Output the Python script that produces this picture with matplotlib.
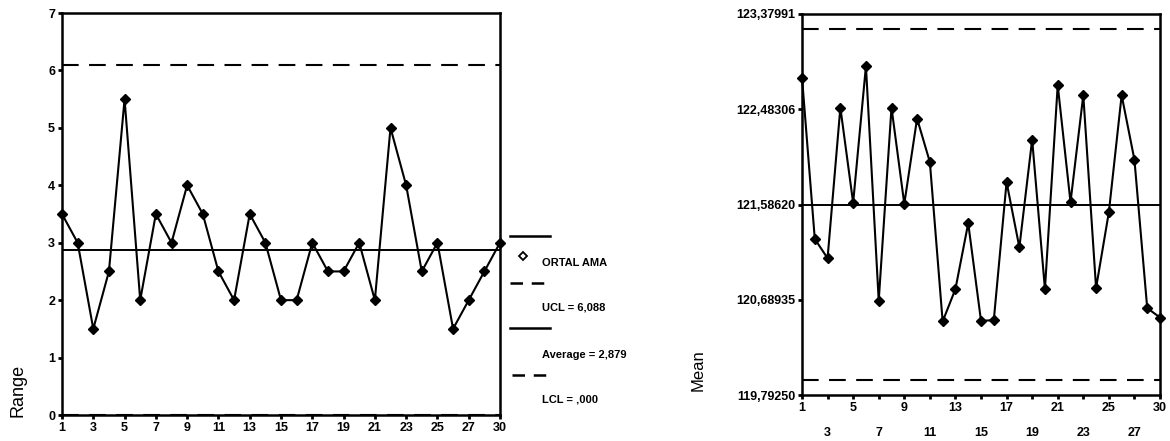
import matplotlib
matplotlib.use("Agg")
import matplotlib.pyplot as plt
from matplotlib.lines import Line2D

# ---- data ----
subgroups = ["1", "2", "3", "4", "5", "6", "7", "8", "9", "10", "11", "12", "13", "14",
             "15", "16", "17", "18", "19", "20", "21", "22", "23", "24", "25", "26", "27",
             "28", "30"]
range_values = [3.5, 3.0, 1.5, 2.5, 5.5, 2.0, 3.5, 3.0, 4.0, 3.5, 2.5, 2.0, 3.5, 3.0,
                2.0, 2.0, 3.0, 2.5, 2.5, 3.0, 2.0, 5.0, 4.0, 2.5, 3.0, 1.5, 2.0, 2.5, 3.0]
range_ucl = 6.088
range_avg = 2.879
range_lcl = 0.0

mean_values = [122.782, 121.262, 121.080, 122.499, 121.602, 122.889, 120.680, 122.499,
               121.592, 122.395, 121.986, 120.485, 120.790, 121.410, 120.491, 120.497,
               121.797, 121.183, 122.197, 120.790, 122.710, 121.608, 122.615, 120.800,
               121.514, 122.615, 122.008, 120.611, 120.522]
mean_ucl = 123.235
mean_center = 121.58620
mean_lcl = 119.935
mean_ticks = [119.79250, 120.68935, 121.58620, 122.48306, 123.37991]
mean_tick_labels = ["119,79250", "120,68935", "121,58620", "122,48306", "123,37991"]

legend_labels = ["ORTAL AMA", "UCL = 6,088", "Average = 2,879", "LCL = ,000"]

FONT = ["Liberation Sans Narrow", "Liberation Sans", "DejaVu Sans"]
plt.rcParams["font.family"] = FONT

fig = plt.figure(figsize=(11.7, 4.41), dpi=100)
W, H = 1170, 441

def axrect(x0, x1, y0, y1):
    return [x0 / W, 1 - y1 / H, (x1 - x0) / W, (y1 - y0) / H]

x = list(range(len(subgroups)))

# ---- left: Range chart ----
ax1 = fig.add_axes(axrect(62, 500, 13, 415))
ax1.plot(x, range_values, color="black", lw=1.5, marker="D", ms=5,
         mfc="black", mec="black", zorder=3, clip_on=False)
ax1.axhline(range_avg, color="black", lw=1.4)
ax1.axhline(range_ucl, color="black", lw=1.5, dashes=(8, 5))
ax1.axhline(range_lcl, color="black", lw=1.5, dashes=(8, 5))
ax1.set_xlim(0, len(subgroups) - 1)
ax1.set_ylim(0, 7)
ax1.set_yticks(range(0, 8))
ax1.set_yticklabels([str(v) for v in range(0, 8)], fontsize=9, fontweight="bold")
tick_idx = list(range(0, len(subgroups), 2))
ax1.set_xticks(tick_idx)
ax1.set_xticklabels([subgroups[i] for i in tick_idx], fontsize=9, fontweight="bold")
ax1.tick_params(direction="out", length=3, width=2, pad=2)
for s in ax1.spines.values():
    s.set_linewidth(1.8)
fig.text(18 / W, 1 - 390 / H, "Range", rotation=90, ha="center", va="center",
         fontsize=13)

# legend drawn manually
def fig_line(x0, x1, y, dashed=False):
    ln = Line2D([x0 / W, x1 / W], [1 - y / H, 1 - y / H], transform=fig.transFigure,
                color="black", lw=1.8)
    if dashed:
        ln.set_dashes((5, 3.5))
    fig.add_artist(ln)

fig_line(510, 550, 236)
fig.add_artist(Line2D([523 / W], [1 - 256 / H], transform=fig.transFigure,
                      marker="D", ms=4, mfc="white", mec="black", mew=1.3, lw=0))
fig.text(542 / W, 1 - 263 / H, legend_labels[0], fontsize=8, fontweight="bold", va="center")
fig_line(510, 552, 283, dashed=True)
fig.text(542 / W, 1 - 308 / H, legend_labels[1], fontsize=8, fontweight="bold", va="center")
fig_line(510, 550, 328)
fig.text(542 / W, 1 - 355 / H, legend_labels[2], fontsize=8, fontweight="bold", va="center")
fig_line(512, 552, 375, dashed=True)
fig.text(542 / W, 1 - 400 / H, legend_labels[3], fontsize=8, fontweight="bold", va="center")

# ---- right: Mean chart ----
ax2 = fig.add_axes(axrect(802, 1160, 14, 395))
ax2.plot(x, mean_values, color="black", lw=1.5, marker="D", ms=5,
         mfc="black", mec="black", zorder=3, clip_on=False)
ax2.axhline(mean_center, color="black", lw=1.4)
ax2.axhline(mean_ucl, color="black", lw=1.5, dashes=(8, 5))
ax2.axhline(mean_lcl, color="black", lw=1.5, dashes=(8, 5))
ax2.set_xlim(0, len(subgroups) - 1)
ax2.set_ylim(mean_ticks[0], mean_ticks[-1])
ax2.set_yticks(mean_ticks)
ax2.set_yticklabels(mean_tick_labels, fontsize=9, fontweight="bold")
ax2.set_xticks(tick_idx)
ax2.set_xticklabels([subgroups[i] if k % 2 == 0 else "\n" + subgroups[i]
                     for k, i in enumerate(tick_idx)], fontsize=9, fontweight="bold",
                    linespacing=2.4)
ax2.tick_params(direction="out", length=3, width=2, pad=2)
for s in ax2.spines.values():
    s.set_linewidth(1.8)
fig.text(698 / W, 1 - 370 / H, "Mean", rotation=90, ha="center", va="center",
         fontsize=12)

fig.savefig("out.png", dpi=100)
